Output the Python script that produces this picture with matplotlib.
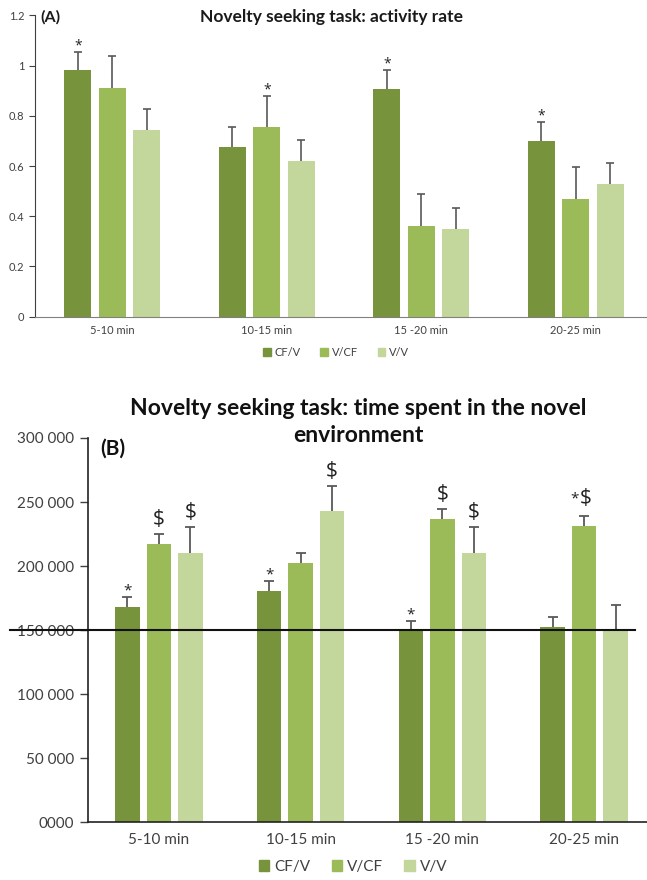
import numpy as np
import matplotlib
matplotlib.use("Agg")
import matplotlib.pyplot as plt
from matplotlib.patches import Patch
import matplotlib.transforms as mtransforms

plt.rcParams['font.family'] = ['Lato', 'DejaVu Sans']

periods_a = ["5-10 min", "10-15 min", "15 -20 min", "20-25 min"]
periods_b = ["5-10 min", "10-15 min", "15 -20 min", "20-25 min"]
groups = ["CF/V", "V/CF", "V/V"]
colors = ["#77933C", "#9BBB59", "#C3D69B"]

# (A) activity rate
act_cfv = [0.983, 0.677, 0.906, 0.699]
act_vcf = [0.910, 0.755, 0.362, 0.469]
act_vv = [0.745, 0.619, 0.351, 0.530]
act_err_cfv = [0.072, 0.078, 0.077, 0.077]
act_err_vcf = [0.128, 0.125, 0.127, 0.127]
act_err_vv = [0.083, 0.083, 0.082, 0.083]
act_marks = [["*", "", ""], ["", "*", ""], ["*", "", ""], ["*", "", ""]]

# (B) time spent in the novel environment
time_cfv = [168300, 180800, 150100, 152700]
time_vcf = [217000, 202200, 236500, 231300]
time_vv = [210500, 243200, 210500, 150000]
time_err_cfv = [7800, 7600, 7300, 7600]
time_err_vcf = [7800, 7800, 8100, 7800]
time_err_vv = [19800, 19600, 19800, 20000]
time_marks = [["*", "$", "$"], ["*", "", "$"], ["*", "$", "$"], ["", "*$", ""]]
reference_level = 150000

yticks_a = [0, 0.2, 0.4, 0.6, 0.8, 1.0, 1.2]
yticklabels_a = ["0", "0.2", "0.4", "0.6", "0.8", "1", "1.2"]
yticks_b = [0, 50000, 100000, 150000, 200000, 250000, 300000]
yticklabels_b = ["0000", "50 000", "100 000", "150 000", "200 000", "250 000", "300 000"]

W, H = 647, 880
PX = 72 / 100  # points per pixel at 100 dpi
fig = plt.figure(figsize=(W / 100, H / 100), dpi=100)

err_color = "#595959"
text_color = "#404040"

# significance symbol styles: (font size, x offset px, y offset px)
style_a = {"*": (10, 0, -2)}
style_b = {"*": (11, 0, -2), "$": (15, 0, 4)}
style_b_pair = {"*": (11, -10, 10), "$": (15, 1.5, 7)}


def draw_marks(ax, x, top, mark, single_style, pair_style):
    if not mark:
        return
    styles = single_style if len(mark) == 1 else pair_style
    for ch in mark:
        size, dx, dy = styles[ch]
        ax.annotate(ch, xy=(x, top), xytext=(dx * PX, dy * PX), textcoords="offset points",
                    ha="center", va="bottom", fontsize=size, color="#222222", zorder=4,
                    family=["Open Sans", "DejaVu Sans"], annotation_clip=False)


def draw_panel(ax, cats, series, errs, marks, width, step, cap, lw, single_style, pair_style):
    x = np.arange(len(cats))
    for i, (vals, ev) in enumerate(zip(series, errs)):
        pos = x + (i - 1) * step
        vals = np.asarray(vals, dtype=float)
        ev = np.asarray(ev, dtype=float)
        ax.bar(pos, vals, width=width, color=colors[i], zorder=2)
        # upper-only error bars with a cap at the top
        ax.vlines(pos, vals, vals + ev, color=err_color, lw=lw, zorder=3)
        ax.hlines(vals + ev, pos - cap, pos + cap, color=err_color, lw=lw, zorder=3)
        for j in range(len(cats)):
            draw_marks(ax, pos[j], vals[j] + ev[j], marks[j][i], single_style, pair_style)
    ax.set_xticks(x)
    ax.set_xticklabels(cats)
    ax.set_xlim(-0.5, len(cats) - 0.5)
    ax.spines["top"].set_visible(False)
    ax.spines["right"].set_visible(False)
    ax.spines["left"].set_color("#404040")
    ax.spines["bottom"].set_color("#808080")
    ax.tick_params(axis="x", length=0, colors=text_color)
    ax.tick_params(axis="y", direction="out", colors=text_color)


# Panel A
axA = fig.add_axes([35 / W, 1 - 316.7 / H, 618 / W, (316.7 - 15.5) / H])
draw_panel(axA, periods_a, [act_cfv, act_vcf, act_vv],
           [act_err_cfv, act_err_vcf, act_err_vv], act_marks,
           width=0.175, step=0.222, cap=0.026, lw=1.2,
           single_style=style_a, pair_style=style_a)
axA.set_ylim(0, 1.2)
axA.set_yticks(yticks_a)
axA.set_yticklabels(yticklabels_a)
axA.tick_params(axis="both", labelsize=8)
axA.tick_params(axis="y", length=4, width=0.8)
axA.tick_params(axis="x", pad=6)
fig.text(332 / W, 1 - 17 / H, "Novelty seeking task: activity rate", ha="center", va="center",
         fontsize=12.5, fontweight="bold", color="#1a1a1a")
fig.text(40 / W, 1 - 17 / H, "(A)", ha="left", va="center", fontsize=11.5,
         fontweight="bold", color="#1a1a1a")
fig.legend([Patch(color=c) for c in colors], groups, loc="center",
           bbox_to_anchor=(336 / W, 1 - 352 / H), ncol=3, frameon=False, fontsize=8,
           handlelength=0.7, handleheight=0.7, handletextpad=0.3, columnspacing=1.8,
           labelcolor=text_color)

# Panel B
axB = fig.add_axes([88 / W, 1 - 822.3 / H, 567 / W, 384.3 / H])
draw_panel(axB, periods_b, [time_cfv, time_vcf, time_vv],
           [time_err_cfv, time_err_vcf, time_err_vv], time_marks,
           width=0.172, step=0.222, cap=0.035, lw=1.3,
           single_style=style_b, pair_style=style_b_pair)
axB.set_ylim(0, 300000)
axB.set_yticks(yticks_b)
axB.set_yticklabels(yticklabels_b)
axB.tick_params(axis="both", labelsize=11)
axB.tick_params(axis="y", length=6, width=1.0, pad=4)
axB.tick_params(axis="x", pad=8)
axB.spines["left"].set_linewidth(1.2)
axB.spines["bottom"].set_linewidth(1.2)
axB.spines["left"].set_color("#222222")
axB.spines["bottom"].set_color("#222222")
trans = mtransforms.blended_transform_factory(axB.transAxes, axB.transData)
axB.plot([(10 - 88) / 567, (635 - 88) / 567], [reference_level, reference_level],
         transform=trans, color="#111111", lw=1.5, clip_on=False, zorder=5)
fig.text(358 / W, 1 - 422 / H, "Novelty seeking task: time spent in the novel\nenvironment",
         ha="center", va="center", fontsize=16.5, fontweight="bold", color="#111111",
         linespacing=1.3)
fig.text(100 / W, 1 - 449 / H, "(B)", ha="left", va="center", fontsize=15,
         fontweight="bold", color="#111111")
fig.legend([Patch(color=c) for c in colors], groups, loc="center",
           bbox_to_anchor=(353 / W, 1 - 867 / H), ncol=3, frameon=False, fontsize=11,
           handlelength=0.7, handleheight=0.7, handletextpad=0.3, columnspacing=1.4,
           labelcolor=text_color)

fig.savefig("out.png", dpi=100)
